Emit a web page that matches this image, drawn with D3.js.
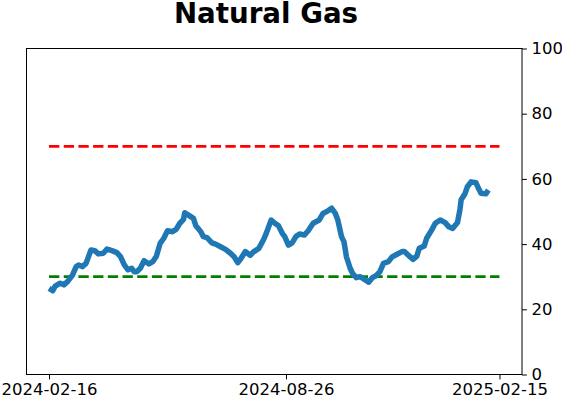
<!DOCTYPE html>
<html><head><meta charset="utf-8">
<script src="https://cdn.jsdelivr.net/npm/d3@7"></script>
<style>body{margin:0;background:#fff}svg{display:block}text{font-family:"DejaVu Sans",sans-serif}</style>
</head><body><svg id="c" width="562" height="402"></svg>
<script>
const title = "Natural Gas";
const dates = ["2024-02-16","2024-02-19","2024-02-21","2024-02-25","2024-02-28","2024-03-02","2024-03-06","2024-03-09","2024-03-11","2024-03-14","2024-03-17","2024-03-21","2024-03-24","2024-03-27","2024-03-31","2024-04-03","2024-04-07","2024-04-11","2024-04-14","2024-04-17","2024-04-20","2024-04-23","2024-04-25","2024-04-27","2024-04-30","2024-05-03","2024-05-07","2024-05-10","2024-05-13","2024-05-16","2024-05-19","2024-05-22","2024-05-26","2024-05-29","2024-06-01","2024-06-04","2024-06-05","2024-06-08","2024-06-12","2024-06-14","2024-06-18","2024-06-20","2024-06-23","2024-06-27","2024-06-30","2024-07-04","2024-07-08","2024-07-12","2024-07-15","2024-07-18","2024-07-20","2024-07-24","2024-07-28","2024-07-31","2024-08-04","2024-08-08","2024-08-10","2024-08-14","2024-08-17","2024-08-20","2024-08-23","2024-08-25","2024-08-28","2024-08-31","2024-09-03","2024-09-06","2024-09-10","2024-09-13","2024-09-17","2024-09-22","2024-09-25","2024-09-29","2024-10-02","2024-10-05","2024-10-07","2024-10-10","2024-10-12","2024-10-14","2024-10-17","2024-10-19","2024-10-22","2024-10-25","2024-10-28","2024-11-01","2024-11-04","2024-11-07","2024-11-10","2024-11-13","2024-11-17","2024-11-20","2024-11-24","2024-11-28","2024-11-30","2024-12-04","2024-12-07","2024-12-10","2024-12-12","2024-12-16","2024-12-18","2024-12-22","2024-12-25","2024-12-29","2025-01-02","2025-01-05","2025-01-08","2025-01-12","2025-01-14","2025-01-15","2025-01-18","2025-01-20","2025-01-23","2025-01-27","2025-01-29","2025-01-31","2025-02-04","2025-02-06"];
const values = [26.4,25.7,27.1,28.0,27.5,28.5,30.5,33.1,33.6,33.1,34.1,38.2,38.0,37.0,37.2,38.5,38.0,37.4,36.1,33.6,32.1,32.6,31.5,31.5,32.6,34.9,33.9,34.6,36.3,40.2,41.8,44.1,43.8,44.5,46.4,47.6,49.6,48.9,47.9,45.6,43.8,42.3,42.0,40.4,40.0,39.2,38.4,37.2,36.1,34.3,35.3,37.7,36.6,37.7,38.7,41.5,43.3,47.4,46.4,45.6,43.3,42.3,39.7,40.4,42.3,43.1,42.8,44.1,46.4,47.4,49.4,50.2,51.0,49.4,47.4,42.3,40.7,36.1,32.6,31.0,29.7,30.0,29.3,28.3,29.7,30.3,31.5,34.1,34.6,36.1,36.9,37.7,37.7,36.3,35.3,36.3,38.7,39.4,41.8,44.3,46.4,47.4,46.6,45.3,44.8,46.6,50.7,53.7,55.4,57.6,59.1,58.8,57.1,55.6,55.4,56.6];
const xStart = "2024-02-16", xEnd = "2025-02-15";
const xTickLabels = ["2024-02-16","2024-08-26","2025-02-15"];
const yTicks = [0,20,40,60,80,100];
const upperLevel = 70, lowerLevel = 30;

const parse = d3.timeParse("%Y-%m-%d");
const fmt = d3.timeFormat("%Y-%m-%d");
const svg = d3.select("#c");
const L = 26.5, R = 522, T = 48.5, B = 374.5;
const t0 = parse(xStart), t1 = parse(xEnd);
const pad = (t1 - t0) * 0.05;
const x = d3.scaleTime().domain([new Date(+t0 - pad), new Date(+t1 + pad)]).range([L, R]);
const y = d3.scaleLinear().domain([0, 100]).range([B, T]);

// threshold lines
[[upperLevel, "red"], [lowerLevel, "green"]].forEach(([v, c]) => {
  svg.append("line").attr("x1", x(t0)).attr("x2", x(t1)).attr("y1", y(v)).attr("y2", y(v))
    .attr("stroke", c).attr("stroke-width", 2.8).attr("stroke-dasharray", "10.3,4.4");
});

const data = dates.map((d, i) => ({d: parse(d), v: values[i]}));
svg.append("path").datum(data)
  .attr("d", d3.line().x(p => x(p.d)).y(p => y(p.v)).curve(d3.curveLinear))
  .attr("fill", "none").attr("stroke", "#1f77b4").attr("stroke-width", 5.5)
  .attr("stroke-linejoin", "round").attr("stroke-linecap", "butt");

// frame
svg.append("rect").attr("x", L).attr("y", T).attr("width", R - L).attr("height", B - T)
  .attr("fill", "none").attr("stroke", "#000").attr("stroke-width", 1);

// axes
const xa = svg.append("g").attr("transform", `translate(0,${B})`)
  .call(d3.axisBottom(x).tickValues(xTickLabels.map(parse)).tickFormat(fmt).tickSize(4.9).tickPadding(4));
const ya = svg.append("g").attr("transform", `translate(${R},0)`)
  .call(d3.axisRight(y).tickValues(yTicks).tickSize(4.9).tickPadding(4.5));
[xa, ya].forEach(g => {
  g.select(".domain").remove();
  g.selectAll("line").attr("stroke", "#000");
  g.selectAll("text").attr("font-family", "DejaVu Sans").attr("font-size", "16.5px").attr("fill", "#000");
});

svg.append("text").attr("x", 266).attr("y", 23).attr("text-anchor", "middle")
  .attr("font-size", "27.7px").attr("font-weight", "bold").attr("font-family", "DejaVu Sans").text(title);
</script></body></html>
